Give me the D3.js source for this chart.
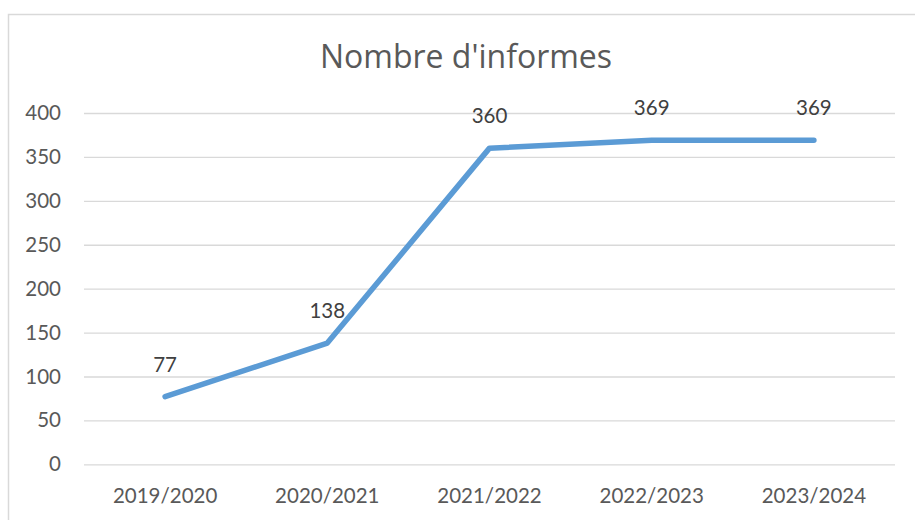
<!DOCTYPE html>
<html><head><meta charset="utf-8">
<script src="https://cdn.jsdelivr.net/npm/d3@7"></script>
<style>body{margin:0;background:#fff}svg{display:block}</style>
</head><body>
<svg id="c" width="915" height="520"></svg>
<script>
const categories = ["2019/2020","2020/2021","2021/2022","2022/2023","2023/2024"];
const values = [77,138,360,369,369];
const yTicks = [0,50,100,150,200,250,300,350,400];
const title = "Nombre d'informes";

const svg = d3.select("#c");
const font = "Lato, 'Open Sans', sans-serif";
const txt = "#595959";

svg.append("rect").attr("x",8.5).attr("y",14.5).attr("width",940).attr("height",540)
  .attr("fill","#fff").attr("stroke","#d9d9d9").attr("stroke-width",1.5);

const x = d3.scaleBand().domain(categories).range([84,895]);
const y = d3.scaleLinear().domain([0,400]).range([464.3,113]);

svg.append("text").attr("x",466).attr("y",68).attr("text-anchor","middle")
  .attr("font-family","'Open Sans', sans-serif").attr("font-size",32).attr("fill",txt).text(title);

const gy = svg.append("g").attr("transform","translate(84,0)")
  .call(d3.axisLeft(y).tickValues(yTicks).tickSize(-811).tickPadding(23));
gy.select(".domain").remove();
gy.selectAll(".tick line").attr("stroke","#d9d9d9").attr("stroke-width",1.3);
gy.selectAll(".tick text").attr("font-family",font).attr("font-size",20.5).attr("fill",txt);

const gx = svg.append("g").attr("transform","translate(0,464.3)")
  .call(d3.axisBottom(x).tickSize(0).tickPadding(24));
gx.select(".domain").remove();
gx.selectAll(".tick text").attr("font-family",font).attr("font-size",20.5).attr("fill",txt);

const line = d3.line().x((d,i)=>x(categories[i])+x.bandwidth()/2).y(d=>y(d));
svg.append("path").datum(values).attr("d",line).attr("fill","none")
  .attr("stroke","#5b9bd5").attr("stroke-width",5.5).attr("stroke-linecap","round").attr("stroke-linejoin","round");

svg.selectAll(".lbl").data(values).enter().append("text")
  .attr("x",(d,i)=>x(categories[i])+x.bandwidth()/2).attr("y",d=>y(d)-25)
  .attr("text-anchor","middle").attr("font-family",font).attr("font-size",20.5).attr("fill","#404040")
  .text(d=>d);
</script>
</body></html>
